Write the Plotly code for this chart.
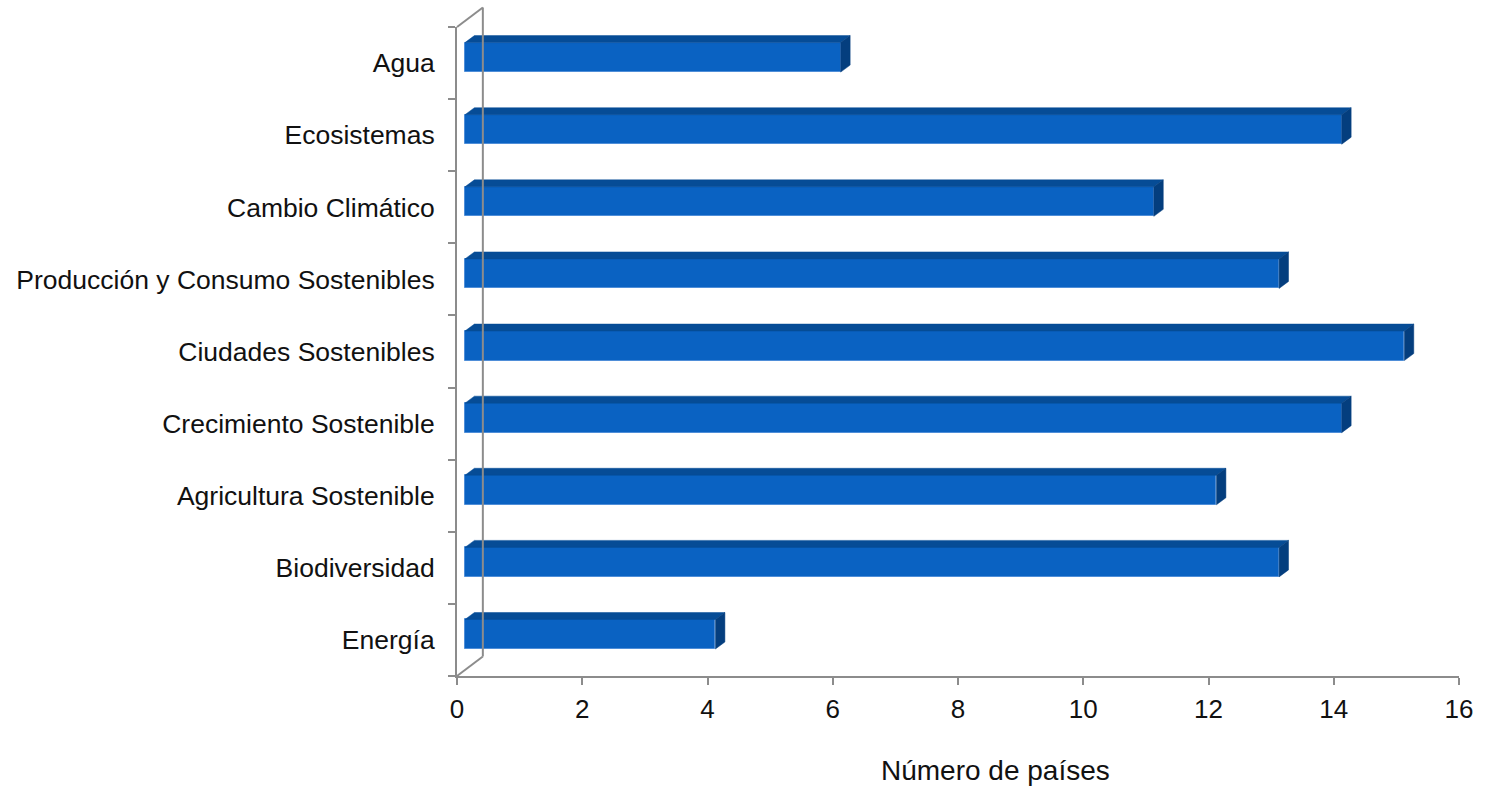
import plotly.graph_objects as go

# ---- data (top to bottom as shown) ----
categories = ["Agua", "Ecosistemas", "Cambio Climático",
              "Producción y Consumo Sostenibles", "Ciudades Sostenibles",
              "Crecimiento Sostenible", "Agricultura Sostenible",
              "Biodiversidad", "Energía"]
values = [6, 14, 11, 13, 15, 14, 12, 13, 4]
x_ticks = [0, 2, 4, 6, 8, 10, 12, 14, 16]
x_title = "Número de países"

# ---- layout geometry (pixels) ----
W, H = 1485, 788
L, R, T, B = 457, 20, 27, 112
PW, PH = W - L - R, H - T - B
XMAX = 16
N = len(categories)
px_x = XMAX / PW            # data units per px (x)
px_y = N / PH               # data units per px (y)

# 3D effect offsets (px)
BAR_X0 = 8.0        # front face start offset from front plane
BAR_DY = 5.7        # front face shifted up
BAR_H = 29.5        # front face height
DEPTH_X, DEPTH_Y = 9.5, 7.0
WALL_X, WALL_Y = 26.0, 19.5

GRAY = "#8C8C8C"
FRONT = "#0A62C2"
TOP = "#064C96"
SIDE = "#043E7E"

# y positions: bottom category = 0
cats_b = categories[::-1]
vals_b = values[::-1]
ypos = list(range(N))

base = BAR_X0 * px_x
yshift = BAR_DY * px_y
bh = BAR_H * px_y
ddx = DEPTH_X * px_x
ddy = DEPTH_Y * px_y

fig = go.Figure()

# front faces
fig.add_trace(go.Bar(
    x=vals_b, y=[p + yshift for p in ypos], base=base, orientation="h",
    width=bh, marker=dict(color=FRONT, line=dict(color="#4F8ED8", width=1)),
    hoverinfo="skip", showlegend=False))

# top and side faces
tx, ty, sx, sy = [], [], [], []
for p, v in zip(ypos, vals_b):
    yt = p + yshift + bh / 2
    yb = p + yshift - bh / 2
    x0, x1 = base, base + v
    tx += [x0, x0 + ddx, x1 + ddx, x1, x0, None]
    ty += [yt, yt + ddy, yt + ddy, yt, yt, None]
    sx += [x1, x1 + ddx, x1 + ddx, x1, x1, None]
    sy += [yt, yt + ddy, yb + ddy, yb, yt, None]

fig.add_trace(go.Scatter(x=tx, y=ty, mode="lines", fill="toself",
                         fillcolor=TOP, line=dict(color=TOP, width=0.5),
                         hoverinfo="skip", showlegend=False))
fig.add_trace(go.Scatter(x=sx, y=sy, mode="lines", fill="toself",
                         fillcolor=SIDE, line=dict(color=SIDE, width=0.5),
                         hoverinfo="skip", showlegend=False))

# wall frame (paper coords)
wx = WALL_X / PW
wy = WALL_Y / PH
line = dict(color=GRAY, width=2)
fig.add_shape(type="line", xref="paper", yref="paper", x0=0, y0=1, x1=wx, y1=1 + wy, line=line)
fig.add_shape(type="line", xref="paper", yref="paper", x0=wx, y0=1 + wy, x1=wx, y1=wy, line=line)
fig.add_shape(type="line", xref="paper", yref="paper", x0=0, y0=0, x1=wx, y1=wy, line=line)

font_family = "Liberation Sans, Arial, sans-serif"

fig.update_layout(
    width=W, height=H,
    margin=dict(l=L, r=R, t=T, b=B, pad=0),
    plot_bgcolor="white", paper_bgcolor="white",
    bargap=0,
    xaxis=dict(range=[0, XMAX], tickvals=x_ticks, ticktext=[str(t) for t in x_ticks],
               showgrid=False, zeroline=False, showline=True, linecolor=GRAY, linewidth=2,
               ticks="outside", ticklen=7, tickcolor=GRAY, tickwidth=2,
               ticklabelstandoff=2,
               tickfont=dict(family=font_family, size=26, color="#111111"),
               fixedrange=True),
    yaxis=dict(range=[-0.5, N - 0.5], tickvals=ypos, ticktext=cats_b,
               showgrid=False, zeroline=False, showline=True, linecolor=GRAY, linewidth=2,
               ticks="", ticklabelstandoff=15,
               minor=dict(tickvals=[i - 0.5 for i in range(N + 1)], ticks="outside",
                          ticklen=7, tickcolor=GRAY, tickwidth=2, showgrid=False),
               tickfont=dict(family=font_family, size=26.5, color="#111111"),
               fixedrange=True),
    annotations=[dict(text=x_title, xref="paper", yref="paper",
                      x=(999 - L) / PW, y=(H - B - 771) / PH,
                      xanchor="center", yanchor="middle", showarrow=False,
                      font=dict(family=font_family, size=28, color="#111111"))],
)

fig.write_html("out.html")
